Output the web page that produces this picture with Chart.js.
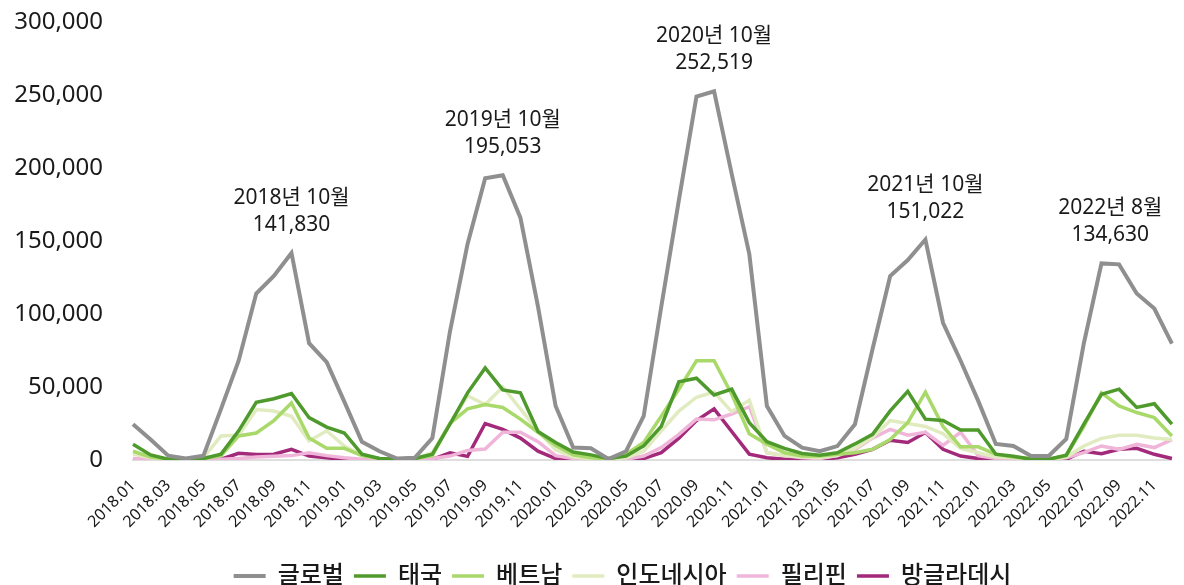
<!DOCTYPE html>
<html>
<head>
<meta charset="utf-8">
<script src="https://cdn.jsdelivr.net/npm/chart.js@4.4.1/dist/chart.umd.min.js"></script>
<style>
html,body{margin:0;padding:0;background:#fff;}
#wrap{width:1184px;height:585px;position:relative;}
</style>
</head>
<body>
<div id="wrap"><canvas id="c"></canvas></div>
<script>
const months = [
 '2018.01','2018.02','2018.03','2018.04','2018.05','2018.06','2018.07','2018.08','2018.09','2018.10','2018.11','2018.12',
 '2019.01','2019.02','2019.03','2019.04','2019.05','2019.06','2019.07','2019.08','2019.09','2019.10','2019.11','2019.12',
 '2020.01','2020.02','2020.03','2020.04','2020.05','2020.06','2020.07','2020.08','2020.09','2020.10','2020.11','2020.12',
 '2021.01','2021.02','2021.03','2021.04','2021.05','2021.06','2021.07','2021.08','2021.09','2021.10','2021.11','2021.12',
 '2022.01','2022.02','2022.03','2022.04','2022.05','2022.06','2022.07','2022.08','2022.09','2022.10','2022.11','2022.12'
];
const seriesNames = ['글로벌','태국','베트남','인도네시아','필리핀','방글라데시'];
const seriesColors = ['#8f8f8f','#4f9a2c','#a9d96a','#e0ebbf','#f0b6d9','#a3297a'];

const globalVals = [
 24500,14000,3000,1000,3000,35000,68000,114000,126000,141830,80000,67000,
 40000,12500,6000,1000,1500,15000,88000,148000,193000,195053,166000,105000,
 37000,8500,8000,700,6000,30000,105000,178000,249000,252519,196000,141000,
 37000,16500,8500,6000,9500,24500,76000,126000,137000,151022,94000,68000,
 40500,11000,9600,2700,2700,14400,80000,134630,134000,114000,103700,79700
];
const thaiVals = [
 10800,3500,500,300,1000,4000,20000,39500,42000,45500,29000,22500,
 18500,4000,1000,500,1000,4000,24500,46000,63000,48000,46000,19500,
 12000,5500,3500,1000,2700,9600,23000,53500,56000,44500,48500,25600,
 12500,8000,4500,3300,5000,11000,17600,33600,47000,28000,27000,20500,
 20500,4000,2500,500,500,3300,24500,45000,48500,36000,38500,24500
];
const vietnamVals = [
 6000,2000,500,300,1000,3000,16500,18500,27000,39000,15000,8000,
 8000,3000,1000,500,1000,3000,25000,35000,38000,36000,28000,19000,
 10000,3500,1500,500,3900,12000,30000,48500,68000,68000,45000,18000,
 10800,5000,2700,2700,3900,5000,7300,14000,25600,46500,23000,9000,
 9000,3900,2000,1000,500,3000,23000,46000,37000,32500,29000,16500
];
const indonesiaVals = [
 4000,1500,500,300,1500,16500,17000,34500,33500,30000,13000,20000,
 9500,3000,1000,500,1000,5000,25000,44000,38000,50000,35000,20000,
 7000,2000,1000,500,1500,6000,20000,33500,43000,46500,33000,41000,
 5000,3000,2000,1500,3000,8000,15500,27000,25000,23000,18000,8000,
 5000,2000,1500,1000,500,2000,9600,14800,17000,17000,15000,14000
];
const philippinesVals = [
 1000,500,300,300,300,500,1000,2000,2500,3000,5000,3000,
 1500,500,300,300,300,1000,2700,6500,7500,19000,19000,12500,
 3000,1000,500,300,500,2700,8500,17600,28000,27500,31500,36500,
 5000,3000,1500,1000,3000,7000,15000,21000,17000,19000,10000,19000,
 3000,1000,500,500,500,1500,5000,9600,7300,10800,8500,14000
];
const bangladeshVals = [
 0,0,0,0,0,500,4600,3800,4000,7300,2700,1500,
 300,200,200,200,200,500,5000,2500,25000,21000,15000,6000,
 1000,300,300,300,300,1000,5000,15000,27000,35000,19500,4000,
 1500,500,500,500,1500,3900,7300,13500,12000,18800,7300,2700,
 1000,300,300,300,300,500,6000,4300,7300,8000,3900,1000
];
const yTicks = [0,50000,100000,150000,200000,250000,300000];

// peak annotations: [start index, end index, title]
const peakIdx = [[9,9,'2018년 10월'],[21,21,'2019년 10월'],[33,33,'2020년 10월'],[45,45,'2021년 10월'],[55,56,'2022년 8월']];

const allVals = [globalVals,thaiVals,vietnamVals,indonesiaVals,philippinesVals,bangladeshVals];
const widths = [4,3.5,3.5,3.5,3.5,3.5];

const FONT = "'Noto Sans','Noto Sans CJK KR',sans-serif";

const peakPlugin = {
  id:'peaks',
  afterLayout(chart){
    // shift the legend box so it is centred like the original
    if (chart.legend) { chart.legend.left += 68; }
  },
  afterDatasetsDraw(chart){
    const ctx = chart.ctx;
    const meta = chart.getDatasetMeta(0);
    ctx.save();
    ctx.fillStyle = '#1a1a1a';
    ctx.textAlign = 'center';
    ctx.textBaseline = 'alphabetic';
    ctx.font = "21px " + FONT;
    peakIdx.forEach(([a,b,title])=>{
      const pa = meta.data[a], pb = meta.data[b];
      const x = (pa.x+pb.x)/2;
      const y = Math.min(pa.y,pb.y);
      const val = globalVals[a].toLocaleString('en-US');
      ctx.fillText(val, x, y-22);
      ctx.fillText(title, x, y-49);
    });
    ctx.restore();
  }
};

new Chart(document.getElementById('c'), {
  type:'line',
  data:{
    labels: months,
    datasets: seriesNames.map((n,i)=>({
      label:n,
      data:allVals[i],
      borderColor:seriesColors[i],
      backgroundColor:seriesColors[i],
      borderWidth:widths[i],
      pointRadius:0,
      pointHoverRadius:0,
      tension:0,
      fill:false,
      pointStyle:'line'
    }))
  },
  options:{
    responsive:true,
    maintainAspectRatio:false,
    animation:false,
    layout:{padding:{top:22,right:7,left:0,bottom:-13}},
    plugins:{
      tooltip:{enabled:false},
      legend:{
        position:'bottom',
        labels:{
          usePointStyle:true,
          pointStyle:'line',
          pointStyleWidth:32,
          boxHeight:23,
          padding:10,
          color:'#1a1a1a',
          font:{family:FONT,size:24,weight:'500'}
        }
      }
    },
    scales:{
      x:{
        type:'category',
        offset:false,
        grid:{display:false,drawTicks:false},
        border:{display:true,color:'#dedede',width:2},
        ticks:{
          autoSkip:false,
          maxRotation:45,
          minRotation:45,
          padding:16,
          color:'#1a1a1a',
          font:{family:FONT,size:16},
          callback:function(v,i){ return i%2===0 ? this.getLabelForValue(v) : null; }
        },
        afterFit(s){ s.height = 94; }
      },
      y:{
        min:0,max:300000,
        grid:{display:false,drawTicks:false},
        border:{display:false},
        afterBuildTicks(s){ s.ticks = yTicks.map(v=>({value:v})); },
        ticks:{
          padding:30,
          color:'#1a1a1a',
          font:{family:FONT,size:24},
          callback:(v)=>v.toLocaleString('en-US')
        },
        afterFit(s){ s.width = 133; s.paddingTop = 0; s.paddingBottom = 0; }
      }
    }
  },
  plugins:[peakPlugin]
});
</script>
</body>
</html>
